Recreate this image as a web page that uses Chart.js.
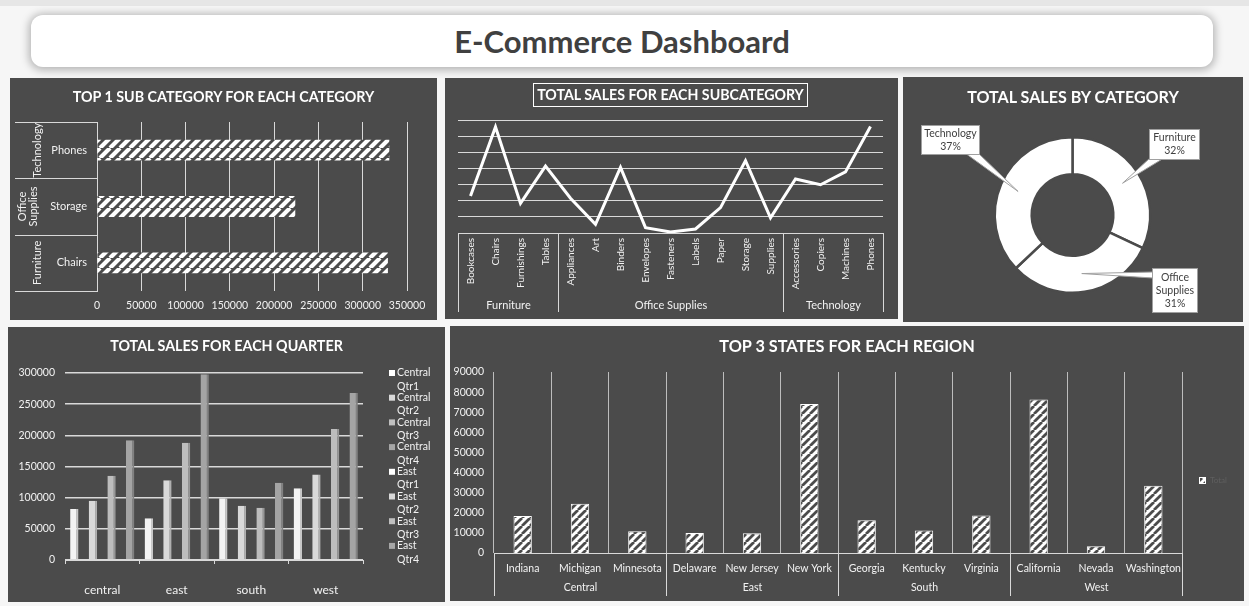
<!DOCTYPE html>
<html>
<head>
<meta charset="utf-8">
<script src="https://cdn.jsdelivr.net/npm/chart.js@4.4.1/dist/chart.umd.min.js"></script>
<style>
html,body{margin:0;padding:0;}
body{width:1249px;height:606px;background:#f6f6f6;position:relative;overflow:hidden;font-family:Lato,"Open Sans",sans-serif;}
#strip{position:absolute;left:0;top:0;width:1249px;height:6px;background:#e6e6e6;}
#mainTitle{position:absolute;left:31px;top:15px;width:1182px;height:52px;background:#fff;border-radius:12px;box-shadow:0 1px 8px 2px rgba(0,0,0,.28);text-align:center;line-height:52px;font-weight:bold;font-size:31px;color:#404040;}
.panel{position:absolute;background:#4b4b4b;}
.panel canvas{position:absolute;left:0;top:0;}
.ptitle{position:absolute;left:0;right:0;text-align:center;color:#fff;font-weight:bold;white-space:nowrap;line-height:20px;z-index:2;}
#tmTitle{left:88px;right:auto;width:273px;top:5px;height:22px;line-height:22px;border:1px solid #fff;}
</style>
</head>
<body>
<div id="strip"></div>
<div id="mainTitle">E-Commerce Dashboard</div>

<div class="panel" style="left:10px;top:78px;width:427px;height:242px;">
  <div class="ptitle" style="top:9px;font-size:14.3px;">TOP 1 SUB CATEGORY FOR EACH CATEGORY</div>
  <canvas id="cTL" width="427" height="242"></canvas>
</div>
<div class="panel" style="left:445px;top:78px;width:453px;height:241px;">
  <div class="ptitle" id="tmTitle" style="font-size:14.2px;">TOTAL SALES FOR EACH SUBCATEGORY</div>
  <canvas id="cTM" width="453" height="241"></canvas>
</div>
<div class="panel" style="left:903px;top:77px;width:340px;height:245px;">
  <div class="ptitle" style="top:10px;font-size:16.1px;">TOTAL SALES BY CATEGORY</div>
  <canvas id="cTR" width="340" height="245"></canvas>
</div>
<div class="panel" style="left:8px;top:327px;width:437px;height:275px;">
  <div class="ptitle" style="top:9px;font-size:14.3px;">TOTAL SALES FOR EACH QUARTER</div>
  <canvas id="cBL" width="437" height="275"></canvas>
</div>
<div class="panel" style="left:450px;top:326px;width:794px;height:275px;">
  <div class="ptitle" style="top:10px;font-size:16.3px;">TOP 3 STATES FOR EACH REGION</div>
  <canvas id="cBR" width="794" height="275"></canvas>
</div>

<script>
// ---------- DATA ----------
// Top 1 sub category for each category
const topCategories = ['Furniture', 'Office Supplies', 'Technology'];
const topSubCategories = ['Chairs', 'Storage', 'Phones'];
const topSubSales = [328449, 223844, 330007];

// Total sales for each subcategory
const subCategories = ['Bookcases','Chairs','Furnishings','Tables','Appliances','Art','Binders','Envelopes','Fasteners','Labels','Paper','Storage','Supplies','Accessories','Copiers','Machines','Phones'];
const subCategoryParent = ['Furniture','Furniture','Furniture','Furniture','Office Supplies','Office Supplies','Office Supplies','Office Supplies','Office Supplies','Office Supplies','Office Supplies','Office Supplies','Office Supplies','Technology','Technology','Technology','Technology'];
const subCategorySales = [114880, 328449, 91705, 206966, 107532, 27119, 203413, 16476, 3024, 12486, 78479, 223844, 46674, 167380, 149528, 189239, 330007];

// Total sales by category (share, %)
const donutCategories = ['Furniture', 'Office Supplies', 'Technology'];
const donutShare = [32, 31, 37];

// Total sales for each quarter
const regions = ['central', 'east', 'south', 'west'];
const quarters = ['Qtr1', 'Qtr2', 'Qtr3', 'Qtr4'];
const salesQtr1 = [82000, 67000, 99000, 115000];
const salesQtr2 = [95000, 128000, 87000, 137000];
const salesQtr3 = [135000, 188000, 84000, 210000];
const salesQtr4 = [192000, 298000, 124000, 268000];
const quarterLegend = [['Central','Qtr1'],['Central','Qtr2'],['Central','Qtr3'],['Central','Qtr4'],['East','Qtr1'],['East','Qtr2'],['East','Qtr3'],['East','Qtr4']];

// Top 3 states for each region
const states = ['Indiana','Michigan','Minnesota','Delaware','New Jersey','New York','Georgia','Kentucky','Virginia','California','Nevada','Washington'];
const stateRegion = ['Central','Central','Central','East','East','East','South','South','South','West','West','West'];
const stateTotals = [18383, 24463, 10823, 9977, 9773, 74039, 16250, 11200, 18598, 76381, 3317, 33403];
const stateSeriesName = 'Total';

// ---------- STYLE HELPERS ----------
const PANEL = '#4b4b4b';
const LINE = '#d9d9d9';
Chart.defaults.font.family = 'Lato, "Open Sans", sans-serif';
Chart.defaults.color = '#f2f2f2';
Chart.defaults.animation = false;
Chart.defaults.plugins.legend.display = false;
Chart.defaults.plugins.tooltip.enabled = false;

function hatch(ctx, bg, fg, size, lw) {
  const c = document.createElement('canvas');
  c.width = c.height = size;
  const x = c.getContext('2d');
  x.fillStyle = bg; x.fillRect(0, 0, size, size);
  x.strokeStyle = fg; x.lineWidth = lw;
  x.beginPath();
  for (let k = -1; k <= 1; k++) { x.moveTo(k * size, size); x.lineTo(k * size + size, 0); }
  x.stroke();
  return ctx.createPattern(c, 'repeat');
}

function groupRuns(parents) {
  const runs = [];
  parents.forEach((p, i) => {
    if (!runs.length || runs[runs.length - 1].name !== p) runs.push({ name: p, start: i, end: i });
    else runs[runs.length - 1].end = i;
  });
  return runs;
}

function makeXGroupPlugin(id, parents, lineLen, labelOffset, fontSize) {
  return {
    id,
    afterDraw(chart) {
      const { ctx, chartArea, scales: { x } } = chart;
      const half = (x.getPixelForValue(1) - x.getPixelForValue(0)) / 2;
      const runs = groupRuns(parents);
      ctx.save();
      ctx.strokeStyle = LINE; ctx.lineWidth = 1;
      ctx.fillStyle = '#f2f2f2';
      ctx.font = fontSize + 'px Lato, "Open Sans", sans-serif';
      ctx.textAlign = 'center'; ctx.textBaseline = 'middle';
      const b = chartArea.bottom;
      runs.forEach((r, i) => {
        const x0 = Math.round(x.getPixelForValue(r.start) - half) + 0.5;
        const x1 = Math.round(x.getPixelForValue(r.end) + half) + 0.5;
        ctx.beginPath();
        if (i === 0) { ctx.moveTo(x0, b); ctx.lineTo(x0, b + lineLen); }
        ctx.moveTo(x1, b); ctx.lineTo(x1, b + lineLen);
        ctx.stroke();
        ctx.fillText(r.name, (x0 + x1) / 2, b + labelOffset);
      });
      ctx.restore();
    }
  };
}

// ---------- TOP LEFT: horizontal bars ----------
(function () {
  const el = document.getElementById('cTL');
  const ctx = el.getContext('2d');
  const groupPlugin = {
    id: 'tlGroups',
    afterDraw(chart) {
      const { ctx, chartArea, scales: { y } } = chart;
      const half = Math.abs(y.getPixelForValue(1) - y.getPixelForValue(0)) / 2;
      ctx.save();
      ctx.strokeStyle = LINE; ctx.lineWidth = 1;
      ctx.fillStyle = '#f2f2f2';
      ctx.font = '11px Lato, "Open Sans", sans-serif';
      ctx.textAlign = 'center'; ctx.textBaseline = 'middle';
      topCategories.forEach((cat, i) => {
        const c = y.getPixelForValue(i);
        ctx.beginPath();
        [c - half, c + half].forEach(v => { const yy = Math.round(v) + 0.5; ctx.moveTo(5, yy); ctx.lineTo(chartArea.left, yy); });
        ctx.stroke();
        const lines = cat.split(' ');
        const cx = lines.length === 1 ? 27 : 17.5;
        ctx.save();
        ctx.translate(cx, c);
        ctx.rotate(-Math.PI / 2);
        lines.forEach((ln, k) => ctx.fillText(ln, 0, (k - (lines.length - 1) / 2) * 11));
        ctx.restore();
      });
      ctx.restore();
    }
  };
  new Chart(el, {
    type: 'bar',
    data: { labels: topSubCategories, datasets: [{ data: topSubSales, backgroundColor: hatch(ctx, PANEL, '#ffffff', 10, 4.2), borderWidth: 0, categoryPercentage: 1, barPercentage: 0.37 }] },
    options: {
      indexAxis: 'y', responsive: false, devicePixelRatio: 1,
      layout: { padding: { top: 44, right: 30, left: 0, bottom: 0 } },
      scales: {
        x: { min: 0, max: 350000, ticks: { stepSize: 50000, padding: 8, font: { size: 10.5 }, callback: v => String(v) }, grid: { color: LINE, drawTicks: false }, border: { display: false }, afterFit(s) { s.height = 29; } },
        y: { reverse: true, ticks: { padding: 10, font: { size: 11 } }, grid: { display: false, drawTicks: false }, border: { color: LINE }, afterFit(s) { s.width = 87; } }
      }
    },
    plugins: [groupPlugin]
  });
})();

// ---------- TOP MIDDLE: line ----------
(function () {
  const el = document.getElementById('cTM');
  new Chart(el, {
    type: 'line',
    data: { labels: subCategories, datasets: [{ data: subCategorySales, borderColor: '#ffffff', borderWidth: 3, pointRadius: 0, tension: 0, fill: false }] },
    options: {
      responsive: false, devicePixelRatio: 1,
      layout: { padding: { top: 42, left: 13, right: 15, bottom: 7 } },
      scales: {
        x: { offset: true, grid: { display: false, drawTicks: false }, border: { color: LINE }, ticks: { minRotation: 90, maxRotation: 90, autoSkip: false, padding: 5, font: { size: 10 } }, afterFit(s) { s.height = 79; } },
        y: { min: 0, max: 350000, ticks: { display: false, stepSize: 50000 }, grid: { color: LINE, drawTicks: false }, border: { display: false }, afterFit(s) { s.width = 0; } }
      }
    },
    plugins: [makeXGroupPlugin('tmGroups', subCategoryParent, 79, 72.5, 11)]
  });
})();

// ---------- TOP RIGHT: doughnut ----------
(function () {
  const el = document.getElementById('cTR');
  const callouts = [
    { x: 246, y: 52, w: 50, h: 30, base: [[247, 81], [261, 81]] },
    { x: 249, y: 191, w: 45, h: 44, base: [[250, 195], [250, 201]] },
    { x: 18, y: 48, w: 58, h: 29, base: [[62, 76], [75, 76]] }
  ];
  const calloutPlugin = {
    id: 'callouts',
    afterDraw(chart) {
      const { ctx } = chart;
      const meta = chart.getDatasetMeta(0);
      ctx.save();
      ctx.font = '10.5px Lato, "Open Sans", sans-serif';
      ctx.textAlign = 'center'; ctx.textBaseline = 'middle';
      meta.data.forEach((arc, i) => {
        const tip = arc.tooltipPosition();
        const b = callouts[i];
        ctx.fillStyle = '#ffffff'; ctx.strokeStyle = '#a0a0a0'; ctx.lineWidth = 1;
        ctx.beginPath();
        ctx.moveTo(b.base[0][0], b.base[0][1]); ctx.lineTo(tip.x, tip.y); ctx.lineTo(b.base[1][0], b.base[1][1]);
        ctx.closePath(); ctx.fill(); ctx.stroke();
        ctx.fillRect(b.x, b.y, b.w, b.h);
        ctx.strokeRect(b.x + 0.5, b.y + 0.5, b.w, b.h);
        const lines = donutCategories[i].split(' ').concat([donutShare[i] + '%']);
        ctx.fillStyle = '#404040';
        const cy = b.y + b.h / 2 + 0.5;
        lines.forEach((ln, k) => ctx.fillText(ln, b.x + b.w / 2 + 0.5, cy + (k - (lines.length - 1) / 2) * 13));
      });
      ctx.restore();
    }
  };
  new Chart(el, {
    type: 'doughnut',
    data: { labels: donutCategories, datasets: [{ data: donutShare, backgroundColor: '#ffffff', borderColor: PANEL, borderWidth: 2.5 }] },
    options: {
      responsive: false, devicePixelRatio: 1, cutout: '52.5%',
      layout: { padding: { top: 59, bottom: 28, left: 90, right: 91 } }
    },
    plugins: [calloutPlugin]
  });
})();

// ---------- BOTTOM LEFT: quarter columns ----------
(function () {
  const el = document.getElementById('cBL');
  const fills = ['#f3f3f3', '#d9d9d9', '#bdbdbd', '#a4a4a4'];
  const sides = ['#c8c8c8', '#b0b0b0', '#979797', '#828282'];
  const legendMarks = ['#ffffff', '#d9d9d9', '#bfbfbf', '#a6a6a6', '#ffffff', '#d9d9d9', '#bfbfbf', '#a6a6a6'];
  const series = [salesQtr1, salesQtr2, salesQtr3, salesQtr4];
  const legendPlugin = {
    id: 'qLegend',
    afterDraw(chart) {
      const { ctx, chartArea } = chart;
      ctx.save();
      ctx.font = '10.5px Lato, "Open Sans", sans-serif';
      ctx.textAlign = 'left'; ctx.textBaseline = 'middle';
      quarterLegend.forEach((item, i) => {
        const y0 = chartArea.top + i * 24.7;
        ctx.fillStyle = legendMarks[i];
        ctx.fillRect(chartArea.right + 26, y0 - 3, 6, 6);
        ctx.fillStyle = '#f2f2f2';
        item.forEach((t, k) => ctx.fillText(t, chartArea.right + 34, y0 + k * 13.3));
      });
      ctx.restore();
    }
  };
  new Chart(el, {
    type: 'bar',
    data: {
      labels: regions,
      datasets: series.map((d, i) => ({ label: quarters[i], data: d, backgroundColor: fills[i], borderColor: sides[i], borderWidth: { right: 2, top: 0, left: 0, bottom: 0 }, categoryPercentage: 1, barPercentage: 0.45 }))
    },
    options: {
      responsive: false, devicePixelRatio: 1,
      layout: { padding: { top: 46, right: 82, left: 0, bottom: 0 } },
      scales: {
        x: { grid: { drawOnChartArea: false, color: LINE, tickLength: 4 }, border: { color: LINE }, ticks: { padding: 19, font: { size: 12 } }, afterFit(s) { s.height = 42; } },
        y: { min: 0, max: 300000, ticks: { stepSize: 50000, padding: 10, font: { size: 10.5 }, callback: v => String(v) }, grid: { color: LINE, lineWidth: 1.5, drawTicks: false }, border: { display: false }, afterFit(s) { s.width = 57; } }
      }
    },
    plugins: [legendPlugin]
  });
})();

// ---------- BOTTOM RIGHT: states ----------
(function () {
  const el = document.getElementById('cBR');
  const ctx = el.getContext('2d');
  const pat = hatch(ctx, '#ffffff', PANEL, 8, 2.8);
  const legendPlugin = {
    id: 'brLegend',
    afterDraw(chart) {
      const { ctx, chartArea } = chart;
      ctx.save();
      ctx.fillStyle = pat;
      ctx.fillRect(chartArea.right + 17, 151, 6, 6);
      ctx.strokeStyle = '#ffffff'; ctx.lineWidth = 1;
      ctx.strokeRect(chartArea.right + 17.5, 151.5, 6, 6);
      ctx.fillStyle = '#5f5f5f';
      ctx.font = '8px Lato, "Open Sans", sans-serif';
      ctx.textAlign = 'left'; ctx.textBaseline = 'middle';
      ctx.fillText(stateSeriesName, chartArea.right + 28, 154.5);
      ctx.restore();
    }
  };
  new Chart(el, {
    type: 'bar',
    data: { labels: states, datasets: [{ label: stateSeriesName, data: stateTotals, backgroundColor: pat, borderColor: '#ffffff', borderWidth: 1, categoryPercentage: 1, barPercentage: 0.32 }] },
    options: {
      responsive: false, devicePixelRatio: 1,
      layout: { padding: { top: 46, right: 62, left: 0, bottom: 0 } },
      scales: {
        x: { grid: { color: '#bdbdbd', drawTicks: false }, border: { color: LINE }, ticks: { padding: 9, autoSkip: false, maxRotation: 0, font: { size: 10.5 } }, afterFit(s) { s.height = 48; } },
        y: { min: 0, max: 90000, ticks: { stepSize: 10000, padding: 10, font: { size: 10.5 }, callback: v => String(v) }, grid: { display: false, drawTicks: false }, border: { display: false }, afterFit(s) { s.width = 44; } }
      }
    },
    plugins: [makeXGroupPlugin('brGroups', stateRegion, 43, 35, 10.5), legendPlugin]
  });
})();
</script>
</body>
</html>
